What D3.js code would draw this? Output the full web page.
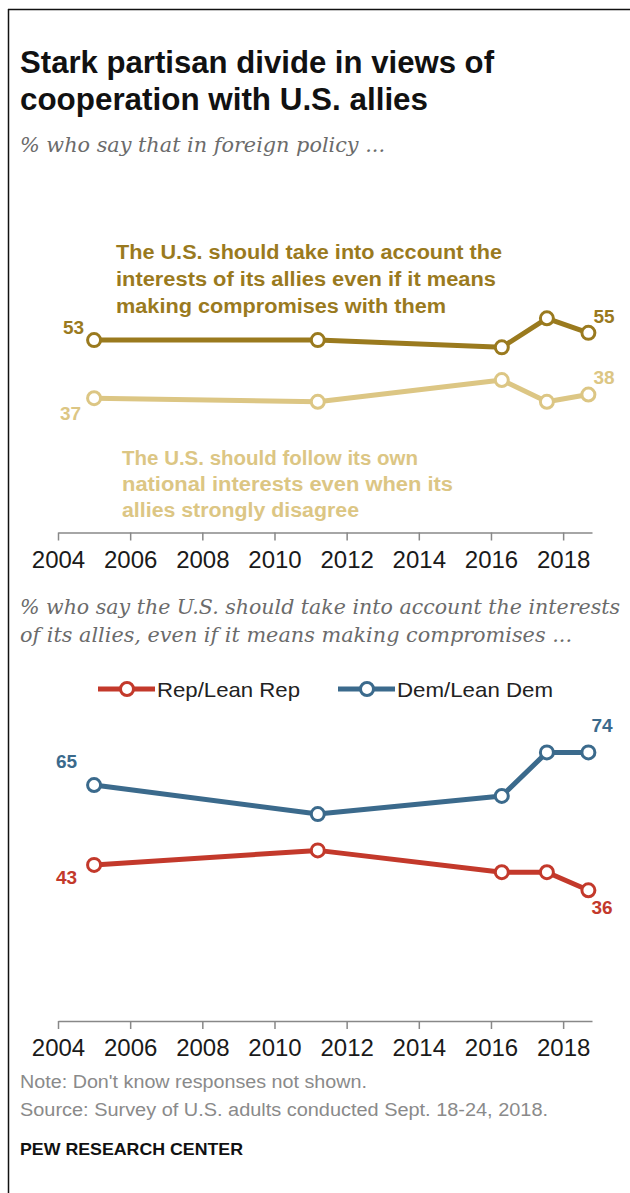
<!DOCTYPE html>
<html><head><meta charset="utf-8">
<script src="https://cdn.jsdelivr.net/npm/d3@7"></script>
<style>
html,body{margin:0;padding:0;background:#fff;}
svg{display:block;}
</style></head>
<body>
<script>
// ---- data ----
const surveyDates = [2005.0, 2011.2, 2016.3, 2017.55, 2018.7];
const accountAllies = [53, 53, 51, 59, 55];
const ownInterests = [37, 36, 42, 36, 38];
const repLean = [43, 47, 41, 41, 36];
const demLean = [65, 57, 62, 74, 74];
const tickYears = [2004, 2006, 2008, 2010, 2012, 2014, 2016, 2018];
const seriesNames = ["Rep/Lean Rep", "Dem/Lean Dem"];

const W = 630, H = 1193;
const C = {dark:"#9a7a1e", light:"#dcc684", rep:"#c3392b", dem:"#3b6a8c", grey:"#6b6b6b", note:"#8a8a8a"};
const sans = "'Liberation Sans', Arial, sans-serif";
const serif = "'DejaVu Serif', Georgia, serif";

const svg = d3.select("body").append("svg").attr("width", W).attr("height", H);
svg.append("rect").attr("width", W).attr("height", H).attr("fill", "#fff");
svg.append("line").attr("x1", 8).attr("x2", W).attr("y1", 9.5).attr("y2", 9.5).attr("stroke", "#111").attr("stroke-width", 1.5);
svg.append("line").attr("x1", 8.5).attr("x2", 8.5).attr("y1", 9).attr("y2", H).attr("stroke", "#111").attr("stroke-width", 1.5);

function txt(s, x, y, o) {
  const t = svg.append("text").attr("x", x).attr("y", y).text(s)
    .attr("font-family", o.family || sans).attr("font-size", o.size)
    .attr("font-weight", o.weight || "normal").attr("fill", o.fill || "#000")
    .attr("font-style", o.style || "normal");
  if (o.anchor) t.attr("text-anchor", o.anchor);
  if (o.len) t.attr("textLength", o.len).attr("lengthAdjust", "spacingAndGlyphs");
  return t;
}

// titles
txt("Stark partisan divide in views of", 20, 73, {size:31, weight:"bold", fill:"#111", len:474});
txt("cooperation with U.S. allies", 20, 110, {size:31, weight:"bold", fill:"#111", len:408});
txt("% who say that in foreign policy ...", 20, 152, {size:19.5, style:"italic", family:serif, fill:C.grey, len:365});

const x = d3.scaleLinear().domain([2004, 2018.8]).range([58, 592]);
const yTop = d3.scaleLinear().domain([0, 100]).range([532.5, 169.5]);
const yBot = d3.scaleLinear().domain([0, 100]).range([1021, 658]);

function drawAxis(yPos) {
  const ax = d3.axisBottom(x).tickValues(tickYears).tickFormat(d3.format("d")).tickSize(8).tickSizeOuter(0);
  const g = svg.append("g").attr("transform", `translate(0,${yPos})`).call(ax);
  g.select(".domain").attr("stroke", "#888").attr("stroke-width", 1.5);
  g.selectAll(".tick line").attr("stroke", "#888").attr("stroke-width", 1.5);
  g.selectAll(".tick text").attr("font-family", sans).attr("font-size", 24).attr("fill", "#1a1a1a").attr("dy", 0).attr("y", 35);
}

function drawSeries(vals, y, color, sw) {
  const pts = vals.map((v, i) => [surveyDates[i], v]);
  const line = d3.line().x(d => x(d[0])).y(d => y(d[1]));
  svg.append("path").attr("d", line(pts)).attr("fill", "none").attr("stroke", color)
    .attr("stroke-width", sw).attr("stroke-linejoin", "round");
  svg.append("g").selectAll("circle").data(pts).join("circle")
    .attr("cx", d => x(d[0])).attr("cy", d => y(d[1])).attr("r", 6.5)
    .attr("fill", "#fff").attr("stroke", color).attr("stroke-width", 3);
}

// ---- top chart ----
drawAxis(yTop(0));
drawSeries(ownInterests, yTop, C.light, 5);
drawSeries(accountAllies, yTop, C.dark, 5);

const annDark = ["The U.S. should take into account the", "interests of its allies even if it means", "making compromises with them"];
const annDarkLen = [386, 380, 330];
annDark.forEach((s, i) => txt(s, 116, 259 + i * 27, {size:20, weight:"bold", fill:C.dark, len:annDarkLen[i]}));
const annLight = ["The U.S. should follow its own", "national interests even when its", "allies strongly disagree"];
const annLightLen = [296, 331, 237];
annLight.forEach((s, i) => txt(s, 122, 465 + i * 26, {size:20, weight:"bold", fill:C.light, len:annLightLen[i]}));

const n = surveyDates.length - 1;
txt(accountAllies[0], x(surveyDates[0]) - 10, yTop(accountAllies[0]) - 6, {size:19, weight:"bold", fill:C.dark, anchor:"end"});
txt(ownInterests[0], x(surveyDates[0]) - 13, yTop(ownInterests[0]) + 22, {size:19, weight:"bold", fill:C.light, anchor:"end"});
txt(accountAllies[n], x(surveyDates[n]) + 5, yTop(accountAllies[n]) - 10, {size:19, weight:"bold", fill:C.dark});
txt(ownInterests[n], x(surveyDates[n]) + 5, yTop(ownInterests[n]) - 11, {size:19, weight:"bold", fill:C.light});

// ---- bottom chart ----
txt("% who say the U.S. should take into account the interests", 20, 614, {size:19.5, style:"italic", family:serif, fill:C.grey, len:600});
txt("of its allies, even if it means making compromises ...", 20, 642, {size:19.5, style:"italic", family:serif, fill:C.grey, len:552});

// legend
const legend = [{name:seriesNames[0], color:C.rep, x0:98, len:143}, {name:seriesNames[1], color:C.dem, x0:338, len:156}];
legend.forEach(l => {
  svg.append("line").attr("x1", l.x0).attr("x2", l.x0 + 57).attr("y1", 689).attr("y2", 689)
    .attr("stroke", l.color).attr("stroke-width", 5);
  svg.append("circle").attr("cx", l.x0 + 29).attr("cy", 689).attr("r", 6.5)
    .attr("fill", "#fff").attr("stroke", l.color).attr("stroke-width", 3);
  txt(l.name, l.x0 + 59, 697, {size:21, fill:"#222", len:l.len});
});

drawAxis(yBot(0));
drawSeries(repLean, yBot, C.rep, 5);
drawSeries(demLean, yBot, C.dem, 5);

txt(demLean[0], x(surveyDates[0]) - 17, yBot(demLean[0]) - 17, {size:19, weight:"bold", fill:C.dem, anchor:"end"});
txt(repLean[0], x(surveyDates[0]) - 17, yBot(repLean[0]) + 19, {size:19, weight:"bold", fill:C.rep, anchor:"end"});
txt(demLean[n], x(surveyDates[n]) + 3, yBot(demLean[n]) - 20, {size:19, weight:"bold", fill:C.dem});
txt(repLean[n], x(surveyDates[n]) + 3, yBot(repLean[n]) + 24, {size:19, weight:"bold", fill:C.rep});

// notes
txt("Note: Don't know responses not shown.", 20, 1088, {size:18, fill:C.note, len:347});
txt("Source: Survey of U.S. adults conducted Sept. 18-24, 2018.", 20, 1116, {size:18, fill:C.note, len:528});
txt("PEW RESEARCH CENTER", 20, 1155, {size:16.5, weight:"bold", fill:"#111", len:223});
</script>
</body></html>
